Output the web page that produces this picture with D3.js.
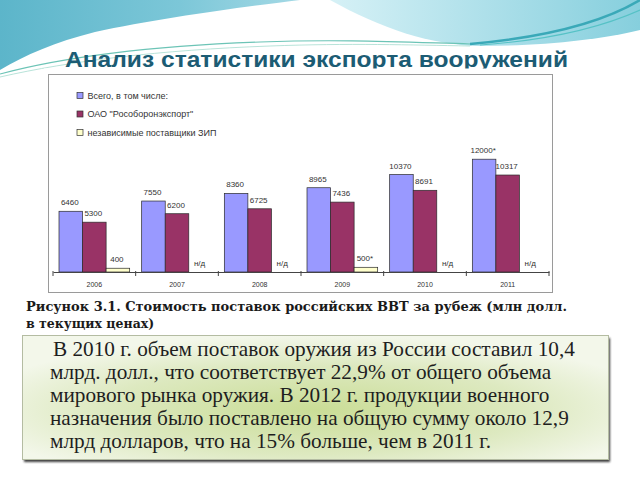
<!DOCTYPE html>
<html>
<head>
<meta charset="utf-8">
<script src="https://cdn.jsdelivr.net/npm/d3@7"></script>
<style>
  html, body { margin: 0; padding: 0; background: #ffffff; }
  svg { display: block; }
</style>
</head>
<body>
<svg id="slide" width="640" height="480"></svg>
<script>
// ---- data ----
const years = ["2006", "2007", "2008", "2009", "2010", "2011"];
const totalValues = [6460, 7550, 8360, 8965, 10370, 12000];
const roeValues = [5300, 6200, 6725, 7436, 8691, 10317];
const partsValues = [400, null, null, 500, null, null];
const totalNotes = ["", "", "", "", "", "*"];
const roeNotes = ["", "", "", "", "", ""];
const partsNotes = ["", "", "", "*", "", ""];
const seriesNames = ["Всего, в том числе:", "ОАО \"Рособоронэкспорт\"", "независимые поставщики ЗИП"];
const missingLabel = "н/д";
const titleText = "Анализ статистики экспорта вооружений";
const captionLines = ["Рисунок 3.1. Стоимость поставок российских ВВТ за рубеж (млн долл.", "в текущих ценах)"];
const bodyLines = [
  "В 2010 г. объем поставок оружия из России составил 10,4",
  "млрд. долл., что соответствует 22,9% от общего объема",
  "мирового рынка оружия. В 2012 г. продукции военного",
  "назначения было поставлено на общую сумму около 12,9",
  "млрд долларов, что на 15% больше, чем в 2011 г."
];

const colors = ["#9999ff", "#993366", "#ffffcc"];
const series = [
  { name: seriesNames[0], values: totalValues, notes: totalNotes, color: colors[0] },
  { name: seriesNames[1], values: roeValues, notes: roeNotes, color: colors[1] },
  { name: seriesNames[2], values: partsValues, notes: partsNotes, color: colors[2] }
];

const svg = d3.select("#slide");
const defs = svg.append("defs");

// ---- background decoration ----
const gL = defs.append("linearGradient").attr("id", "gL").attr("x1", 0).attr("y1", 0).attr("x2", 1).attr("y2", 0);
gL.append("stop").attr("offset", 0).attr("stop-color", "#5cb5ca");
gL.append("stop").attr("offset", 0.6).attr("stop-color", "#7cc7d8");
gL.append("stop").attr("offset", 1).attr("stop-color", "#a4d9e5");
const gR = defs.append("linearGradient").attr("id", "gR").attr("x1", 0).attr("y1", 0).attr("x2", 1).attr("y2", 0);
gR.append("stop").attr("offset", 0).attr("stop-color", "#d6f1f6");
gR.append("stop").attr("offset", 0.5).attr("stop-color", "#aee0ea");
gR.append("stop").attr("offset", 1).attr("stop-color", "#86cfdd");

svg.append("rect").attr("width", 640).attr("height", 480).attr("fill", "#ffffff");
svg.append("path").attr("d", "M0,0 H300 C250,6 160,18 95,32 C55,42 25,55 0,70 Z").attr("fill", "url(#gL)");
svg.append("path").attr("d", "M330,0 H640 V30 C600,40 540,46 480,46 C430,45 380,28 330,0 Z").attr("fill", "url(#gR)");
svg.append("path").attr("d", "M0,74 C60,58 150,46 260,42 C340,39 400,42 470,44").attr("fill", "none").attr("stroke", "#6cc4b6").attr("stroke-width", 1.2);
svg.append("path").attr("d", "M0,77 C70,61 160,50 270,46 C350,43 410,45 470,46").attr("fill", "none").attr("stroke", "#a6dccf").attr("stroke-width", 0.8);
svg.append("path").attr("d", "M640,0 C610,18 560,36 470,44").attr("fill", "none").attr("stroke", "#3aa9b8").attr("stroke-width", 2.5);
svg.append("path").attr("d", "M640,10 C600,28 550,40 480,45").attr("fill", "none").attr("stroke", "#56c2c6").attr("stroke-width", 1.2);

// ---- title ----
svg.append("text").attr("x", 65).attr("y", 66.5)
  .attr("font-family", "Liberation Sans, Arial, sans-serif").attr("font-weight", "bold")
  .attr("font-size", 22).attr("fill", "#1c5c74")
  .attr("textLength", 503).attr("lengthAdjust", "spacingAndGlyphs")
  .text(titleText);

// ---- chart picture ----
svg.append("rect").attr("x", 44).attr("y", 68.5).attr("width", 512).attr("height", 228).attr("fill", "#ffffff");
svg.append("rect").attr("x", 48.5).attr("y", 74.5).attr("width", 504).attr("height", 218).attr("fill", "#ffffff").attr("stroke", "#9a9a9a").attr("stroke-width", 1);

const x = d3.scaleBand().domain(years).range([53, 549]).paddingInner(0).paddingOuter(0);
const xs = d3.scaleBand().domain(d3.range(series.length)).range([6, x.bandwidth() - 6]);
const y = d3.scaleLinear().domain([0, 14000]).range([272, 140.4]);

const chartFont = "Liberation Sans, Arial, sans-serif";

// legend
const legend = svg.append("g").attr("transform", "translate(80,0)");
const legendY = [95.5, 114, 132.5];
series.forEach((s, i) => {
  legend.append("rect").attr("x", -3).attr("y", legendY[i] - 3).attr("width", 6).attr("height", 6)
    .attr("fill", s.color).attr("stroke", "#333").attr("stroke-width", 0.7);
  legend.append("text").attr("x", 7.5).attr("y", legendY[i] + 3.2)
    .attr("font-family", chartFont).attr("font-size", 9).attr("fill", "#333")
    .text(s.name);
});

// bars
const groups = svg.append("g").selectAll("g").data(years).join("g")
  .attr("transform", d => `translate(${x(d)},0)`);
series.forEach((s, si) => {
  groups.each(function(d, i) {
    const v = s.values[i];
    const g = d3.select(this);
    if (v != null) {
      g.append("rect").attr("x", xs(si)).attr("y", y(v)).attr("width", xs.bandwidth()).attr("height", y(0) - y(v))
        .attr("fill", s.color).attr("stroke", "#2a2a2a").attr("stroke-width", 0.7);
    }
    g.append("text").attr("x", xs(si) + xs.bandwidth() / 2 - 1).attr("y", y(v == null ? 0 : v) - 6)
      .attr("text-anchor", "middle").attr("font-family", chartFont).attr("font-size", 8).attr("fill", "#333")
      .text(v == null ? missingLabel : v + s.notes[i]);
  });
});

// axis
const axis = svg.append("g").attr("transform", "translate(0,272)")
  .call(d3.axisBottom(x).tickSize(0).tickPadding(10));
axis.select(".domain").attr("stroke", "#444");
axis.selectAll("text").attr("font-family", chartFont).attr("font-size", 7).attr("fill", "#333");
const bounds = years.map(d => x(d)).concat([x(years[years.length - 1]) + x.bandwidth()]);
axis.selectAll(".bt").data(bounds).join("line").attr("class", "bt")
  .attr("x1", d => d).attr("x2", d => d).attr("y1", -1).attr("y2", 4).attr("stroke", "#444");

// ---- caption ----
captionLines.forEach((t, i) => {
  const txt = svg.append("text").attr("x", 26).attr("y", [311, 328][i])
    .attr("font-family", "DejaVu Serif, serif").attr("font-weight", "bold")
    .attr("font-size", 12.5).attr("fill", "#1a1a1a").text(t);
  if (i === 0) txt.attr("textLength", 541).attr("lengthAdjust", "spacingAndGlyphs");
});

// ---- green text box ----
const gB = defs.append("radialGradient").attr("id", "gB").attr("cx", 0.5).attr("cy", 0.6).attr("r", 0.6);
gB.append("stop").attr("offset", 0).attr("stop-color", "#cadd96");
gB.append("stop").attr("offset", 0.6).attr("stop-color", "#dde9c0");
gB.append("stop").attr("offset", 1).attr("stop-color", "#f3f7ea");
const blur = defs.append("filter").attr("id", "sh").attr("x", -0.05).attr("y", -0.1).attr("width", 1.1).attr("height", 1.3);
blur.append("feGaussianBlur").attr("stdDeviation", 1);

svg.append("rect").attr("x", 24).attr("y", 338).attr("width", 586).attr("height", 124)
  .attr("fill", "#1a1a1a").attr("opacity", 0.85).attr("filter", "url(#sh)");
svg.append("rect").attr("x", 22.5).attr("y", 335.5).attr("width", 586).attr("height", 124)
  .attr("fill", "url(#gB)").attr("stroke", "#b4bca2").attr("stroke-width", 1);

const bodyFont = "Liberation Serif, Times New Roman, serif";
const probe = svg.append("text").attr("font-family", bodyFont).attr("font-size", 19).text(bodyLines[0]);
const w0 = probe.node().getComputedTextLength();
probe.remove();
const bodySize = 19 * 522 / w0;
bodyLines.forEach((t, i) => {
  svg.append("text").attr("x", i === 0 ? 53 : 50).attr("y", 356 + i * 23)
    .attr("font-family", bodyFont).attr("font-size", bodySize).attr("fill", "#1e1e1e").text(t);
});
</script>
</body>
</html>
